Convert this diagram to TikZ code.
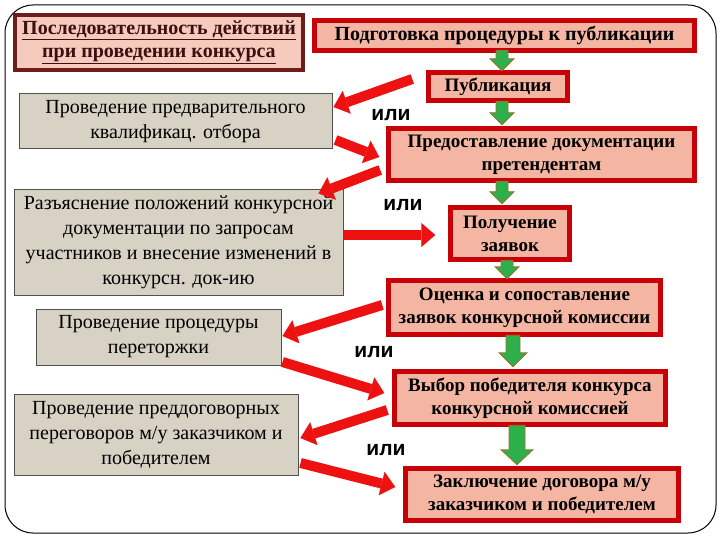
\documentclass[tikz,border=0pt]{standalone}
\usepackage{fontspec}
\setmainfont{Liberation Serif}
\newfontfamily\orfont{Liberation Sans}
\usetikzlibrary{arrows.meta,calc}
\definecolor{boxred}{HTML}{C80008}
\definecolor{boxfill}{HTML}{F4B6A3}
\definecolor{titledraw}{HTML}{6E1C1C}
\definecolor{titlefill}{HTML}{F6CBBE}
\definecolor{titletext}{HTML}{3A1010}
\definecolor{grayfill}{HTML}{D8D2C5}
\definecolor{graydraw}{HTML}{505050}
\definecolor{arrowred}{HTML}{EE1111}
\definecolor{ggreen}{HTML}{2DB04B}
\definecolor{gline}{HTML}{A0702A}
\newcommand\grnarrow[5]{%
  \path[draw=gline, fill=ggreen, line width=0.8pt, line join=miter]
    let \p1=(#1), \p2=(#2) in
    (\x1-#3pt,\y1) -- (\x1+#3pt,\y1) -- (\x1+#3pt,\y2+#5pt) -- (\x1+#4pt,\y2+#5pt)
    -- (\x1,\y2) -- (\x1-#4pt,\y2+#5pt) -- (\x1-#3pt,\y2+#5pt) -- cycle;}
\begin{document}
\begin{tikzpicture}[x=1pt,y=-1pt,
  redbox/.style={draw=boxred, line width=5.5pt, fill=boxfill, inner sep=0pt, align=center,
    font=\bfseries\fontsize{19}{23}\selectfont},
  graybox/.style={draw=graydraw, line width=1pt, fill=grayfill, inner sep=0pt, align=center,
    font=\fontsize{20}{25}\selectfont},
  titlebox/.style={draw=titledraw, line width=4pt, fill=titlefill, inner sep=0pt, align=center,
    text=titletext, font=\bfseries\fontsize{20}{23}\selectfont},
  ortext/.style={font=\orfont\bfseries\fontsize{21}{21}\selectfont, inner sep=0pt},
  redarrow/.style={draw=arrowred, line width=10pt,
    -{Triangle[width=24pt,length=14pt,line width=0.1pt]}}]
\useasboundingbox (0,0) rectangle (720,540);
\fill[white] (0,0) rectangle (720,540);
\draw[line width=1pt, rounded corners=28pt] (5,5) rectangle (716,533);

% main column
\node[titlebox, minimum width=288, minimum height=55] (title) at (159,42.5)
  {\underline{Последовательность действий}\\\underline{при проведении конкурса}};
\node[redbox, minimum width=380, minimum height=30, font=\bfseries\fontsize{20}{23}\selectfont] (prep) at (504.5,35.5)
  {Подготовка процедуры к публикации};
\node[redbox, minimum width=139, minimum height=28] (pub) at (498,86.5) {Публикация};
\node[redbox, minimum width=306, minimum height=52] (doc) at (541.5,154.5)
  {Предоставление документации\\претендентам};
\node[redbox, minimum width=119, minimum height=52] (rcv) at (510,233.5) {Получение\\заявок};
\node[redbox, minimum width=272, minimum height=54] (eval) at (524.5,307.5)
  {Оценка и сопоставление\\заявок конкурсной комиссии};
\node[redbox, minimum width=271, minimum height=53] (win) at (530,398)
  {Выбор победителя конкурса\\конкурсной комиссией};
\node[redbox, minimum width=273, minimum height=52] (contract) at (542,494.5)
  {Заключение договора м/у\\заказчиком и победителем};

% side boxes
\node[graybox, minimum width=313, minimum height=55] (g1) at (175.5,121.5)
  {Проведение предварительного\\квалификац. отбора};
\node[graybox, minimum width=329, minimum height=105] (g2) at (178.5,242.5)
  {Разъяснение положений конкурсной\\документации по запросам\\участников и внесение изменений в\\конкурсн. док-ию};
\node[graybox, minimum width=245, minimum height=56] (g3) at (158.5,337)
  {Проведение процедуры\\переторжки};
\node[graybox, minimum width=284, minimum height=81] (g4) at (156,434.5)
  {Проведение преддоговорных\\переговоров м/у заказчиком и\\победителем};

% "или" labels
\node[ortext] (or1) at (391,115) {или};
\node[ortext] (or2) at (403,205) {или};
\node[ortext] (or3) at (374,352) {или};
\node[ortext] (or4) at (386,450) {или};

% green arrows
\grnarrow{$(prep.south)+(-2.5,-3)$}{$(pub.north)+(4,1)$}{6}{12}{12}
\grnarrow{$(pub.south)+(4,-2)$}{$(doc.north)+(-39.5,-1)$}{6}{12}{12}
\grnarrow{$(doc.south)+(-39.5,-2)$}{$(rcv.north)+(-8,-1)$}{6}{12}{12}
\grnarrow{$(rcv.south)+(-3,-2)$}{$(eval.north)+(-17.5,1)$}{6}{12}{12}
\grnarrow{$(eval.south)+(-11.5,-2)$}{$(win.north)+(-17,-2)$}{7}{14}{14}
\grnarrow{$(win.south)+(-13,-2)$}{$(contract.north)+(-25,-1)$}{8}{16}{15}

% red arrows
\draw[redarrow] ($(pub.west)+(-13.5,-7.5)$) -- ($(g1.east)+(1,-14.5)$);
\draw[redarrow] ($(g1.east)+(3,18.5)$) -- ($(doc.west)+(-6.5,2.5)$);
\draw[redarrow] ($(doc.west)+(-5.5,15.5)$) -- ($(g2.north east)+(-25,4)$);
\draw[redarrow] ($(g2.east)+(0,-7.5)$) -- ($(rcv.west)+(-12.5,1.5)$);
\draw[redarrow] ($(eval.west)+(-3.5,-2.5)$) -- ($(g3.east)+(1,-1)$);
\draw[redarrow] ($(g3.east)+(1,25)$) -- ($(win.west)+(-7.5,-5)$);
\draw[redarrow] ($(win.west)+(-4.5,12)$) -- ($(g4.east)+(2,3.5)$);
\draw[redarrow] ($(g4.east)+(2,28.5)$) -- ($(contract.west)+(-7.5,-7.5)$);
\end{tikzpicture}
\end{document}
